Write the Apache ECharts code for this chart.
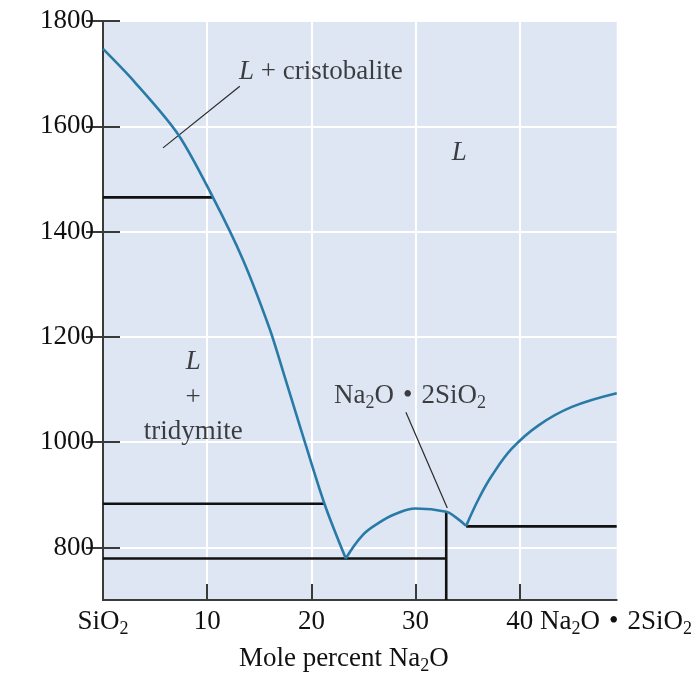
<!DOCTYPE html>
<html>
<head>
<meta charset="utf-8">
<script src="https://cdn.jsdelivr.net/npm/echarts@6/dist/echarts.min.js"></script>
<style>
  html, body { margin: 0; padding: 0; background: #fff; }
  #chart { width: 695px; height: 680px; }
</style>
</head>
<body>
<div id="chart"></div>
<script>
(function() {
  var font = 'Liberation Serif';
  var ink = '#111111';
  var blue = '#2a7aa8';

  // liquidus curves (mole % Na2O, temperature)
  var liquidusSilica = [[0, 1747], [3, 1685], [7.2, 1585], [10.55, 1465], [13.4, 1348], [16, 1215], [17.3, 1133], [19, 1024], [21.25, 883], [23.3, 779]];
  var liquidusCompound = [[23.3, 779], [24.9, 823], [26.5, 847], [28, 863], [30, 874], [32.94, 868], [33.8, 858], [34.85, 841]];
  var liquidusRight = [[34.85, 841], [36.07, 893], [37.34, 937], [39.25, 988], [41.8, 1032], [45, 1067], [49.3, 1093]];

  // horizontal / vertical phase boundaries
  var cristobaliteLine = [[0, 1465], [10.55, 1465]];
  var quartzLine = [[0, 883], [21.25, 883]];
  var eutecticLine = [[0, 779], [32.94, 779]];
  var compoundLine = [[32.94, 700], [32.94, 868]];
  var eutectic2Line = [[34.85, 840], [49.3, 840]];

  // leader lines
  var leaderCristobalite = [[5.76, 1559], [13.13, 1676]];
  var leaderCompound = [[29.07, 1057], [33.04, 875]];

  // region labels
  var regionLabels = [
    [20.9, 1703, '{i|L} + cristobalite'],
    [34.2, 1550, '{i|L}'],
    [8.66, 1152, '{i|L}'],
    [8.66, 1084, '+'],
    [8.66, 1019, 'tridymite'],
    [29.46, 1088, 'Na{s|2}O{b|•}2SiO{s|2}']
  ];

  var yTicks = [800, 1000, 1200, 1400, 1600, 1800];
  var xTicks = [0, 10, 20, 30, 40];
  var xTickMarks = [10, 20, 30, 40];

  var rich = {
    s: { fontFamily: font, fontSize: 18, lineHeight: 14, verticalAlign: 'bottom', color: ink },
    i: { fontFamily: font, fontSize: 27, fontStyle: 'italic', lineHeight: 32, color: ink },
    b: { fontFamily: font, fontSize: 27, lineHeight: 32, color: ink, padding: [0, 9, 0, 9] }
  };

  function lineSeries(data, color, width, z) {
    return {
      type: 'line', data: data, symbol: 'none', silent: true, z: z,
      lineStyle: { color: color, width: width }
    };
  }
  function curve(data, smooth) {
    var s = lineSeries(data, blue, 2.6, 5);
    s.smooth = smooth;
    return s;
  }

  var chart = echarts.init(document.getElementById('chart'), null, { renderer: 'canvas' });
  chart.setOption({
    animation: false,
    backgroundColor: '#fff',
    textStyle: { fontFamily: font },
    grid: {
      left: 103, top: 21, width: 515, height: 580,
      show: true, backgroundColor: '#dde6f2', borderWidth: 0
    },
    xAxis: [{
      type: 'value', min: 0, max: 49.3, interval: 10,
      axisLine: { show: true, lineStyle: { color: '#3a3a3a', width: 2 } },
      axisTick: { show: true, inside: true, length: 16, customValues: xTickMarks, lineStyle: { color: '#3a3a3a', width: 2 } },
      axisLabel: {
        customValues: xTicks, margin: 6, color: ink, fontSize: 27, lineHeight: 32, fontFamily: font,
        formatter: function(v) { return v === 0 ? 'SiO{s|2}' : String(v); },
        rich: rich
      },
      splitLine: { show: true, lineStyle: { color: '#ffffff', width: 2 } },
      name: 'Mole percent Na{s|2}O',
      nameLocation: 'middle', nameGap: 40,
      nameTextStyle: { color: ink, fontSize: 27, lineHeight: 32, fontFamily: font, rich: rich, padding: [0, 32, 0, 0] }
    }, {
      type: 'value', min: 0, max: 49.3, position: 'bottom',
      axisLine: { show: false }, axisTick: { show: false }, splitLine: { show: false },
      axisLabel: {
        customValues: [40], margin: 6, align: 'left',
        color: ink, fontSize: 27, lineHeight: 32, fontFamily: font,
        formatter: function() { return '\u00a0\u00a0\u00a0Na{s|2}O{b|•}2SiO{s|2}'; },
        rich: rich
      }
    }],
    yAxis: [{
      type: 'value', min: 700, max: 1800, interval: 100, position: 'left',
      axisLine: { show: true, lineStyle: { color: '#3a3a3a', width: 2 } },
      axisTick: { show: true, inside: true, length: 17, customValues: yTicks, lineStyle: { color: '#3a3a3a', width: 2 } },
      axisLabel: {
        customValues: yTicks, margin: 9, color: ink, fontSize: 27, fontFamily: font,
        formatter: function(v) { return String(v); }
      },
      splitLine: { show: true, lineStyle: { color: '#ffffff', width: 2 } }
    }, {
      type: 'value', min: 700, max: 1800, position: 'right',
      axisLine: { show: true, lineStyle: { color: '#3a3a3a', width: 2 } },
      axisTick: { show: true, inside: true, length: 17, customValues: yTicks, lineStyle: { color: '#3a3a3a', width: 2 } },
      axisLabel: { show: false },
      splitLine: { show: false }
    }],
    series: [
      lineSeries(cristobaliteLine, ink, 2.6, 3),
      lineSeries(quartzLine, ink, 2.6, 3),
      lineSeries(eutecticLine, ink, 2.6, 3),
      lineSeries(compoundLine, ink, 2.6, 3),
      lineSeries(eutectic2Line, ink, 2.6, 3),
      lineSeries(leaderCristobalite, '#2a2a2a', 1.2, 4),
      lineSeries(leaderCompound, '#2a2a2a', 1.2, 4),
      curve(liquidusSilica, 0.3),
      curve(liquidusCompound, 0.4),
      curve(liquidusRight, 0.4),
      {
        type: 'scatter', silent: true, symbolSize: 0, z: 6,
        data: regionLabels,
        label: {
          show: true, position: 'inside', color: ink, fontSize: 27, lineHeight: 32, fontFamily: font,
          formatter: function(p) { return p.data[2]; },
          rich: rich
        }
      }
    ]
  });
  window.addEventListener('resize', function() { chart.resize(); });
})();
</script>
</body>
</html>
